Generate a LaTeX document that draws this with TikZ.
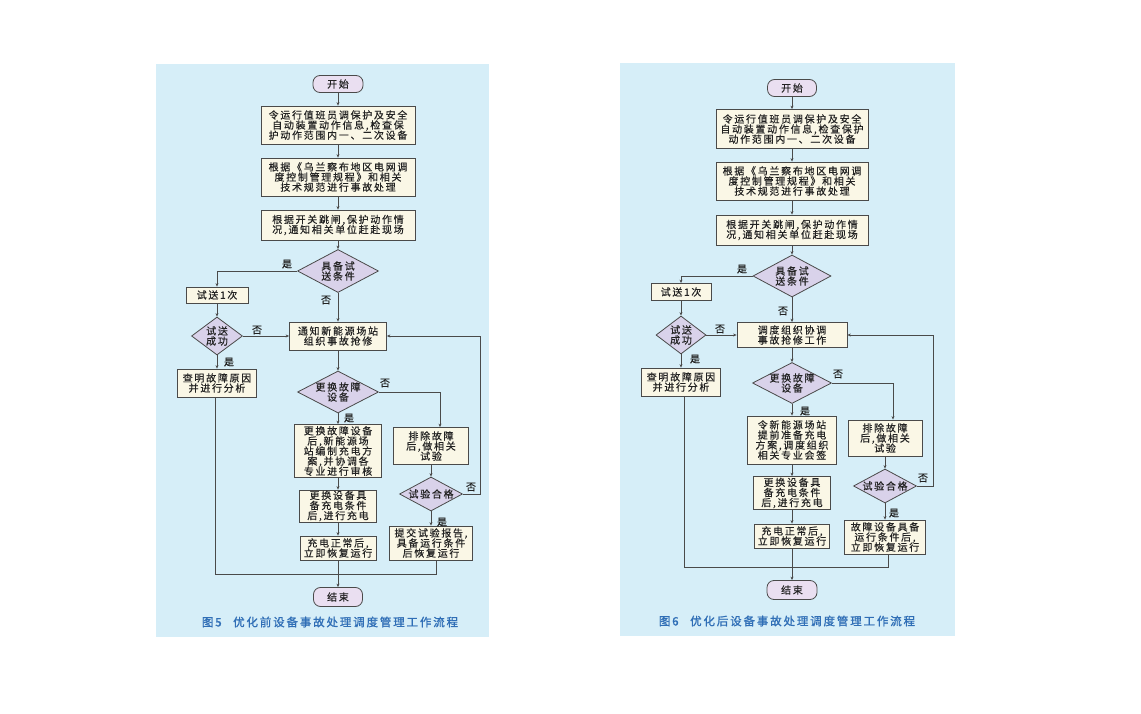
\documentclass[tikz,border=0pt]{standalone}
\usepackage{fontspec}
\newfontfamily\cjk[LetterSpace=17,FakeBold=0.4]{Noto Sans CJK SC}
\newfontfamily\capfont[LetterSpace=16,FakeBold=1.2]{Noto Sans CJK SC}
\usetikzlibrary{shapes.geometric,arrows.meta}
\definecolor{panel}{HTML}{D6EEF8}
\definecolor{cream}{HTML}{FAF7E6}
\definecolor{lav}{HTML}{D9D2EA}
\definecolor{termfill}{HTML}{EADFF1}
\definecolor{ln}{HTML}{4A4A4A}
\definecolor{txt}{HTML}{222222}
\definecolor{capblue}{HTML}{2F6EB6}
\newcommand\boxfont{\cjk\fontsize{10}{10.1}\selectfont\lineskiplimit=-6pt\relax}
\begin{document}
\lineskiplimit=-6pt\relax
\begin{tikzpicture}[x=1pt,y=-1pt,
  every node/.style={font=\boxfont, text=txt},
  sz/.style 2 args={minimum width=#1pt, minimum height=#2pt},
  box/.style={rectangle, draw=ln, fill=cream, line width=0.8pt, inner sep=0pt, align=center},
  dec/.style={diamond, aspect=1.5, draw=ln, fill=lav, line width=0.8pt, inner sep=-5pt, align=center},
  term/.style={rectangle, rounded corners=7pt, draw=ln, fill=termfill, line width=0.8pt, inner sep=0pt},
  lab/.style={inner sep=0pt},
  flow/.style={draw=ln, line width=0.8pt, -{Stealth[length=3.5pt,width=3pt]}},
  plain/.style={draw=ln, line width=0.8pt},
  captxt/.style={font=\capfont\fontsize{11.5}{12}\selectfont, text=capblue, inner sep=0pt}]
\useasboundingbox (0,0) rectangle (1141,714);
\fill[white] (0,0) rectangle (1141,714);
\fill[panel] (156,64) rectangle (489,637);
\fill[panel] (620,63) rectangle (955,636);

% ---------------- left panel ----------------
\node[term, sz={50}{17}] (startL) at (338,84) {开始};
\node[box, sz={154}{38}] (b1L) at (338,125) {令运行值班员调保护及安全\\自动装置动作信息,检查保\\护动作范围内一、二次设备};
\node[box, sz={154}{38}] (b2L) at (338,177) {根据《乌兰察布地区电网调\\度控制管理规程》和相关\\技术规范进行事故处理};
\node[box, sz={154}{30}] (b3L) at (338,225) {根据开关跳闸,保护动作情\\况,通知相关单位赶赴现场};
\node[dec, sz={81}{43}] (d1L) at (338,271) {具备试\\送条件};
\node[box, sz={62}{16}] (tryL) at (217,295) {试送1次};
\node[dec, sz={51}{38}] (d2L) at (217,336) {试送\\成功};
\node[box, sz={97}{28}] (notifyL) at (338,336) {通知新能源场站\\组织事故抢修};
\node[box, sz={79}{28}] (findL) at (217,383) {查明故障原因\\并进行分析};
\node[dec, sz={81}{42}] (d3L) at (338,392) {更换故障\\设备};
\node[box, sz={87}{53}] (repL) at (338,451) {更换故障设备\\后,新能源场\\站编制充电方\\案,并协调各\\专业进行审核};
\node[box, sz={75}{37}] (fixL) at (431,446) {排除故障\\后,做相关\\试验};
\node[dec, sz={63}{34}] (d4L) at (431,494) {试验合格};
\node[box, sz={77}{32}] (chargeL) at (338,506) {更换设备具\\备充电条件\\后,进行充电};
\node[box, sz={76}{24}] (normL) at (338,548) {充电正常后,\\立即恢复运行};
\node[box, sz={83}{34}] (reportL) at (431,543) {提交试验报告,\\具备运行条件\\后恢复运行};
\node[term, sz={49}{19}] (endL) at (338,597) {结束};
\node[captxt] (capL) at (330,622) {图5\hspace{1em}优化前设备事故处理调度管理工作流程};

\coordinate (loopL) at (480,0);
\coordinate (mergeL) at (0,574);

\draw[flow] (startL.south) -- (b1L.north);
\draw[flow] (b1L.south) -- (b2L.north);
\draw[flow] (b2L.south) -- (b3L.north);
\draw[flow] (b3L.south) -- (d1L.north);
\draw[flow] (d1L.west) -| (tryL.north);
\draw[flow] (d1L.south) -- (notifyL.north);
\draw[flow] (tryL.south) -- (d2L.north);
\draw[flow] (d2L.east) -- (notifyL.west);
\draw[flow] (d2L.south) -- (findL.north);
\draw[flow] (notifyL.south) -- (d3L.north);
\draw[flow] (d3L.east) -| ([xshift=9pt]fixL.north);
\draw[flow] (d3L.south) -- (repL.north);
\draw[flow] (fixL.south) -- (d4L.north);
\draw[flow] (d4L.east) -- (d4L.east -| loopL) |- (notifyL.east);
\draw[flow] (d4L.south) -- (reportL.north);
\draw[flow] (repL.south) -- (chargeL.north);
\draw[flow] (chargeL.south) -- (normL.north);
\draw[flow] (normL.south) -- (endL.north);
\draw[plain] ([xshift=-2pt]findL.south) -- ([xshift=-2pt]findL.south |- mergeL) -- ([xshift=5pt]reportL.south |- mergeL) -- ([xshift=5pt]reportL.south);

\node[lab] (yL1) at (287,264) {是};
\node[lab] (nL1) at (326,300) {否};
\node[lab] (nL2) at (257,330) {否};
\node[lab] (yL2) at (229,362) {是};
\node[lab] (nL3) at (385,383) {否};
\node[lab] (yL3) at (349,418) {是};
\node[lab] (nL4) at (471,487) {否};
\node[lab] (yL4) at (442,522) {是};

% ---------------- right panel ----------------
\node[term, sz={49}{17}] (startR) at (792,88) {开始};
\node[box, sz={152}{39}] (b1R) at (792,129) {令运行值班员调保护及安全\\自动装置动作信息,检查保护\\动作范围内一、二次设备};
\node[box, sz={152}{38}] (b2R) at (792,181) {根据《乌兰察布地区电网调\\度控制管理规程》和相关\\技术规范进行事故处理};
\node[box, sz={152}{30}] (b3R) at (792,230) {根据开关跳闸,保护动作情\\况,通知相关单位赶赴现场};
\node[dec, sz={78}{42}] (d1R) at (792,276) {具备试\\送条件};
\node[box, sz={60}{17}] (tryR) at (681,292) {试送1次};
\node[dec, sz={50}{38}] (d2R) at (681,335) {试送\\成功};
\node[box, sz={110}{25}] (coordR) at (792,335) {调度组织协调\\事故抢修工作};
\node[box, sz={79}{28}] (findR) at (681,382) {查明故障原因\\并进行分析};
\node[dec, sz={79}{41}] (d3R) at (792,383) {更换故障\\设备};
\node[box, sz={89}{48}] (prepR) at (792,440) {令新能源场站\\提前准备充电\\方案,调度组织\\相关专业会签};
\node[box, sz={74}{36}] (fixR) at (885,438) {排除故障\\后,做相关\\试验};
\node[dec, sz={63}{34}] (d4R) at (885,486) {试验合格};
\node[box, sz={77}{33}] (chargeR) at (792,493) {更换设备具\\备充电条件\\后,进行充电};
\node[box, sz={75}{24}] (normR) at (792,536) {充电正常后,\\立即恢复运行};
\node[box, sz={81}{34}] (restR) at (885,537) {故障设备具备\\运行条件后,\\立即恢复运行};
\node[term, sz={50}{19}] (endR) at (792,590) {结束};
\node[captxt] (capR) at (787,621) {图6\hspace{1em}优化后设备事故处理调度管理工作流程};

\coordinate (loopR) at (933,0);
\coordinate (mergeR) at (0,567);

\draw[flow] (startR.south) -- (b1R.north);
\draw[flow] (b1R.south) -- (b2R.north);
\draw[flow] (b2R.south) -- (b3R.north);
\draw[flow] (b3R.south) -- (d1R.north);
\draw[flow] (d1R.west) -| (tryR.north);
\draw[flow] (d1R.south) -- (coordR.north);
\draw[flow] (tryR.south) -- (d2R.north);
\draw[flow] (d2R.east) -- (coordR.west);
\draw[flow] (d2R.south) -- (findR.north);
\draw[flow] (coordR.south) -- (d3R.north);
\draw[flow] (d3R.east) -| ([xshift=8pt]fixR.north);
\draw[flow] (d3R.south) -- (prepR.north);
\draw[flow] (fixR.south) -- (d4R.north);
\draw[flow] (d4R.east) -- (d4R.east -| loopR) |- (coordR.east);
\draw[flow] (d4R.south) -- (restR.north);
\draw[flow] (prepR.south) -- (chargeR.north);
\draw[flow] (chargeR.south) -- (normR.north);
\draw[flow] (normR.south) -- (endR.north);
\draw[plain] ([xshift=3pt]findR.south) -- ([xshift=3pt]findR.south |- mergeR) -- ([xshift=3pt]restR.south |- mergeR) -- ([xshift=3pt]restR.south);

\node[lab] (yR1) at (742,269) {是};
\node[lab] (nR1) at (783,311) {否};
\node[lab] (nR2) at (720,329) {否};
\node[lab] (yR2) at (695,359) {是};
\node[lab] (nR3) at (838,374) {否};
\node[lab] (yR3) at (805,411) {是};
\node[lab] (nR4) at (923,478) {否};
\node[lab] (yR4) at (894,513) {是};
\end{tikzpicture}
\end{document}
